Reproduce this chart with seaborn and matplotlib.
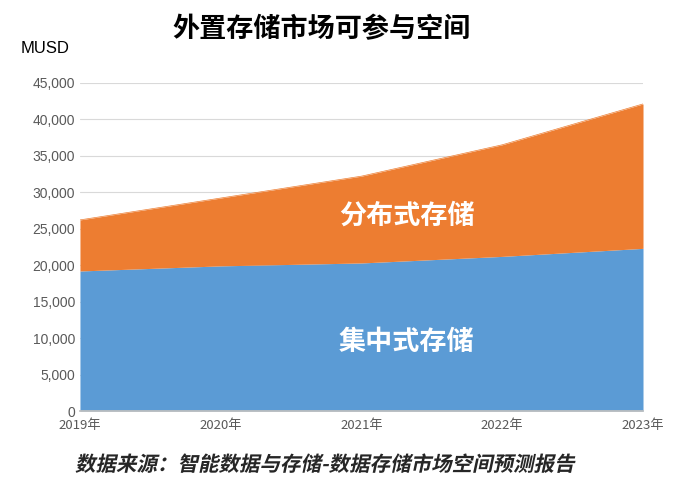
import matplotlib
matplotlib.use("Agg")
import matplotlib.pyplot as plt
import seaborn as sns
import numpy as np
from matplotlib.textpath import TextPath
from matplotlib.patches import PathPatch
from matplotlib.font_manager import FontProperties
from matplotlib.transforms import Affine2D

years = ["2019年", "2020年", "2021年", "2022年", "2023年"]
centralized = [19200, 19900, 20300, 21200, 22300]
distributed_total = [26200, 29200, 32200, 36500, 42100]
footer = "数据来源：智能数据与存储-数据存储市场空间预测报告"

sns.set_theme(style="white")
plt.rcParams["font.family"] = "Noto Sans CJK SC"

fig = plt.figure(figsize=(6.8, 4.87), dpi=100)
ax = fig.add_axes([0.1176, 0.156, 0.828, 0.674])
x = np.arange(len(years))
ax.fill_between(x, 0, centralized, color="#5b9bd5", linewidth=0)
ax.fill_between(x, centralized, distributed_total, color="#ed7d31", linewidth=0)
sns.lineplot(x=x, y=distributed_total, ax=ax, color="#ed7d31", linewidth=0.5)
ax.set_xlim(0, 4)
ax.set_ylim(0, 45000)
ax.set_yticks(range(0, 45001, 5000))
ax.set_yticklabels([f"{v:,}" for v in range(0, 45001, 5000)], fontsize=10, color="#595959", fontfamily="Liberation Sans")
ax.set_xticks(x)
ax.set_xticklabels(years, fontsize=9.5, color="#595959")
ax.yaxis.grid(True, color="#d9d9d9", linewidth=0.8)
ax.set_axisbelow(True)
for s in ["top", "right", "left"]:
    ax.spines[s].set_visible(False)
ax.spines["bottom"].set_color("#bfbfbf")
ax.tick_params(axis="x", length=4, color="#bfbfbf", pad=2)
ax.tick_params(axis="y", length=0)

ax.text(2.32, 26800, "分布式存储", ha="center", va="center", fontsize=19.5, fontweight="bold", color="white")
ax.text(2.32, 9500, "集中式存储", ha="center", va="center", fontsize=19.5, fontweight="bold", color="white")

fig.text(0.473, 0.94, "外置存储市场可参与空间", ha="center", va="center", fontsize=19.5, fontweight="bold", color="black")
fig.text(0.03, 0.9, "MUSD", ha="left", va="center", fontsize=12, color="black", fontfamily="Liberation Sans")

# italic-looking footer via skewed text path (CJK font has no italic)
fp = FontProperties(family="Noto Sans CJK SC", weight="bold")
tp = TextPath((0, 0), footer, size=20.5, prop=fp)
tr = Affine2D().skew_deg(12, 0).translate(75, 14) + fig.dpi_scale_trans.__class__(fig.dpi_scale_trans.get_matrix() * 0 + np.eye(3)) if False else None
path = Affine2D().skew_deg(12, 0).translate(75, 16).transform_path(tp)
patch = PathPatch(path, facecolor="#262626", edgecolor="none", transform=None)
fig.patches.append(patch)
patch.set_figure(fig)

fig.savefig("out.png", dpi=100)
